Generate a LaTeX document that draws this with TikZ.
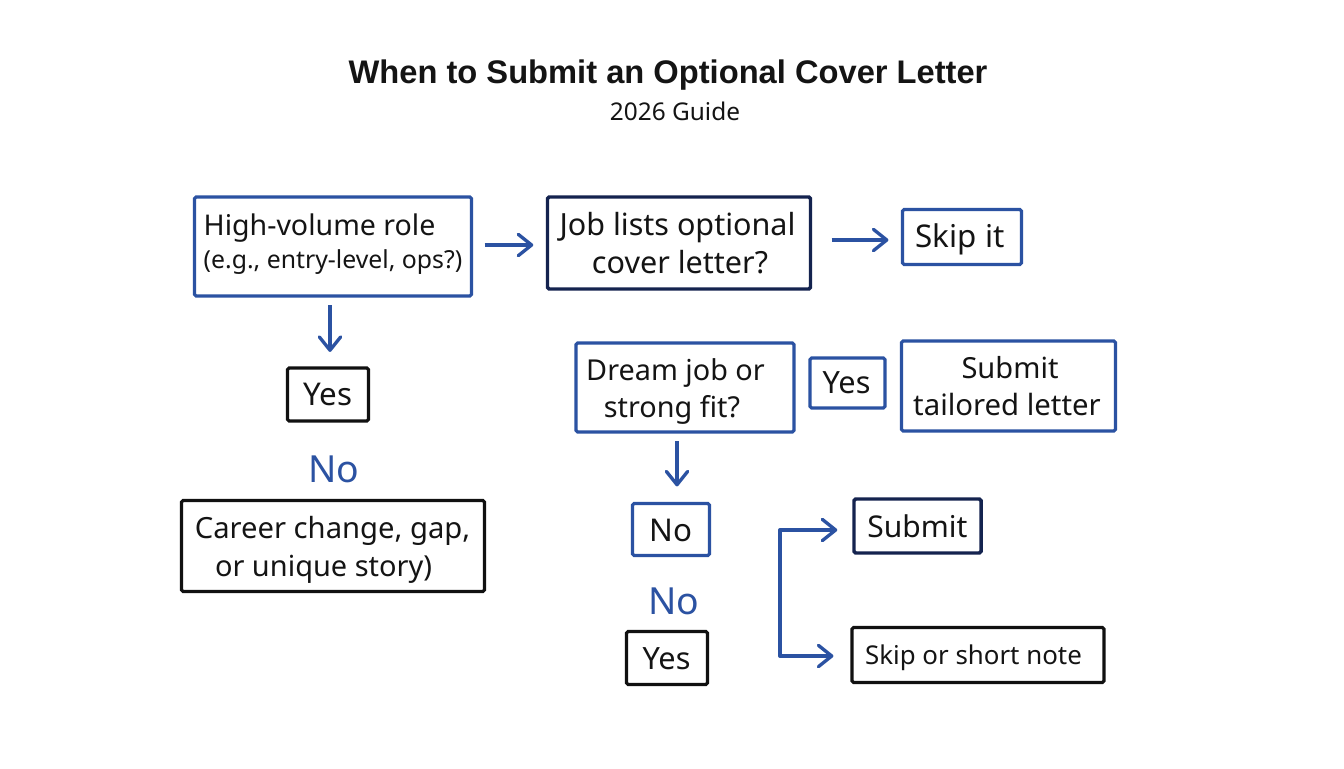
\documentclass[tikz,border=0pt]{standalone}
\usepackage{fontspec}
\setmainfont{Noto Sans}
\newfontfamily\titlefont{Liberation Sans}
\usetikzlibrary{arrows.meta}
\definecolor{bl}{HTML}{2B52A2}
\definecolor{nv}{HTML}{14234F}
\definecolor{bk}{HTML}{111111}
\definecolor{tx}{HTML}{141414}
\newlength{\px}\setlength{\px}{0.75pt}
\tikzset{x=0.75pt,y=-0.75pt,
 boxb/.style={draw=bl,line width=2.4pt,inner sep=0,rounded corners=1.2pt},
 boxk/.style={draw=bk,line width=2.4pt,inner sep=0,rounded corners=1.2pt},
 boxn/.style={draw=nv,line width=2.6pt,inner sep=0,rounded corners=1.2pt},
 arr/.style={draw=bl,line width=2.5pt,line join=round,-{Straight Barb[length=10pt,width=16pt,line width=2.5pt,round]}},
 lbl/.style={inner sep=0,text=tx,anchor=base,font=\fontsize{#1}{24}\selectfont},
 nolbl/.style={inner sep=0,text=bl,anchor=base,font=\fontsize{28}{30}\selectfont}}
\begin{document}
\begin{tikzpicture}
\useasboundingbox (0,0) rectangle (1344,768);
\fill[white] (0,0) rectangle (1344,768);
\node[inner sep=0,anchor=base,text=tx,font=\titlefont\fontsize{24.5}{28}\selectfont\bfseries] (title) at (668,83) {When to Submit an Optional Cover Letter};
\node[lbl=18.3] (sub) at (675,120) {2026 Guide};
% boxes
\node[boxb,minimum width=277\px,minimum height=99\px] (high) at (333,246.5) {};
\node[lbl=21.4] (hightxt) at (319.5,235) {High-volume role};
\node[lbl=18.6] (hightxb) at (333,268) {(e.g., entry-level, ops?)};
\node[boxn,minimum width=263\px,minimum height=92\px] (job) at (679,243) {};
\node[lbl=22.9] (jobt) at (677.5,235) {Job lists optional};
\node[lbl=22.9] (jobb) at (680,273) {cover letter?};
\node[boxb,minimum width=119\px,minimum height=55\px] (skip) at (962,237) {};
\node[lbl=23.5] (skipt) at (960,247) {Skip it};
\node[boxk,minimum width=81\px,minimum height=53\px] (yes1) at (328,394.5) {};
\node[lbl=23.5] (yes1t) at (328,405) {Yes};
\node[nolbl] (no1) at (333.5,482) {No};
\node[boxk,minimum width=303\px,minimum height=91\px] (career) at (333,546) {};
\node[lbl=21.9] (cart) at (332.5,538) {Career change, gap,};
\node[lbl=21.7] (carb) at (323.5,576) {or unique story)};
\node[boxb,minimum width=218\px,minimum height=89\px] (dream) at (685,387.5) {};
\node[lbl=21.6] (dreamt) at (675.5,380) {Dream job or};
\node[lbl=21.6] (dreamb) at (672,417) {strong fit?};
\node[boxb,minimum width=75\px,minimum height=50\px] (yes2) at (847.5,383) {};
\node[lbl=23] (yes2t) at (846.5,393) {Yes};
\node[boxb,minimum width=214\px,minimum height=90\px] (tail) at (1008.5,386) {};
\node[lbl=21.8] (tailt) at (1010,378) {Submit};
\node[lbl=22] (tailb) at (1007,415) {tailored letter};
\node[boxb,minimum width=77\px,minimum height=52\px] (no2) at (671,529.5) {};
\node[lbl=23.5] (no2t) at (671,541) {No};
\node[nolbl] (no3) at (673.5,614) {No};
\node[boxk,minimum width=81\px,minimum height=53\px] (yes3) at (667,658) {};
\node[lbl=23] (yes3t) at (666.5,669) {Yes};
\node[boxn,minimum width=127\px,minimum height=54\px] (sub2) at (917.5,526) {};
\node[lbl=22.5] (sub2t) at (917.5,537) {Submit};
\node[boxk,minimum width=252\px,minimum height=55\px] (short) at (978,655) {};
\node[lbl=19.4] (shortt) at (973.5,664) {Skip or short note};
% connectors
\draw[arr,shorten <=11.5\px,shorten >=12.5\px] ([yshift=1.5\px]high.east) -- ([yshift=-2\px]job.west);
\draw[arr,shorten <=19.5\px,shorten >=12.5\px] ([yshift=3\px]job.east) -- ([yshift=-3\px]skip.west);
\draw[arr,shorten <=7.5\px,shorten >=14.5\px] ([xshift=-3\px]high.south) -- ([xshift=2\px]yes1.north);
\draw[arr,shorten <=7.5\px,shorten >=15.5\px] ([xshift=-8\px]dream.south) -- ([xshift=6\px]no2.north);
\coordinate (j) at (780,592);
\draw[arr,shorten >=15\px] (j) |- ([yshift=-4\px]sub2.west);
\draw[arr,shorten >=17\px] (j) |- ([yshift=-1\px]short.west);
\end{tikzpicture}
\end{document}
